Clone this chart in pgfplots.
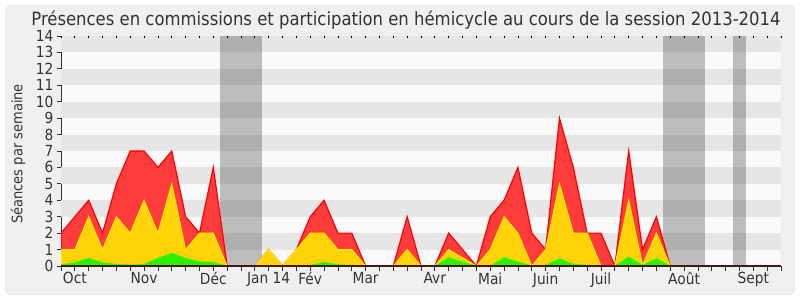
\documentclass[border=0pt]{standalone}
\usepackage{fontspec}
\setmainfont{DejaVu Sans Condensed}
\usepackage{pgfplots}
\pgfplotsset{compat=1.18}
\definecolor{bgout}{RGB}{240,240,240}
\definecolor{bordc}{RGB}{220,220,220}
\definecolor{txt}{RGB}{51,51,51}
\definecolor{stripeL}{RGB}{250,250,250}
\definecolor{stripeD}{RGB}{230,230,230}
\definecolor{bandc}{RGB}{50,50,50}
\definecolor{redfill}{RGB}{255,60,60}
\definecolor{redline}{RGB}{255,0,0}
\definecolor{yelfill}{RGB}{255,210,10}
\definecolor{yelline}{RGB}{255,240,0}
\definecolor{grnfill}{RGB}{45,240,0}
\definecolor{grnline}{RGB}{40,255,0}
\definecolor{baseln}{RGB}{70,25,20}
\begin{document}
\begin{tikzpicture}[x=1bp,y=1bp]
\fill[white] (0,0) rectangle (800,300);
\filldraw[fill=bgout, draw=bordc, rounded corners=6bp] (5.5,5.5) rectangle (794.5,294.5);
\node[font=\fontsize{18.3bp}{22bp}\selectfont, text=txt, anchor=base] at (406,275) {Présences en commissions et participation en hémicycle au cours de la session 2013-2014};
\node[font=\fontsize{14.5bp}{17bp}\selectfont, text=txt, rotate=90, anchor=center] at (18,146) {Séances par semaine};
\begin{axis}[
  at={(61bp,34bp)}, anchor=south west,
  scale only axis, width=720bp, height=230bp,
  xmin=0, xmax=52, ymin=0, ymax=14,
  axis background/.style={fill=stripeL},
  axis x line*=bottom, axis y line*=left,
  x axis line style={draw=baseln, line width=0.8bp, -},
  y axis line style={draw=txt, line width=0.8bp, -},
  xtick={1,6,11,15,18,22,27,31,35,39,45,50},
  xticklabels={Oct,Nov,Déc,Jan 14,Fév,Mar,Avr,Mai,Juin,Juil,Août,Sept},
  minor xtick={0,...,52},
  major x tick style={draw=none},
  minor x tick style={draw=txt, line width=0.8bp},
  minor tick length=5bp,
  ytick={0,...,14},
  major tick length=4bp,
  y tick style={draw=txt, line width=0.8bp},
  tick align=outside,
  ticklabel style={font=\fontsize{15.3bp}{18bp}\selectfont, text=txt},
  xticklabel style={yshift=1bp},
  /pgf/number format/assume math mode=true,
  clip=true,
]
\fill[stripeD] (axis cs:0,1) rectangle (axis cs:52,2);
\fill[stripeD] (axis cs:0,3) rectangle (axis cs:52,4);
\fill[stripeD] (axis cs:0,5) rectangle (axis cs:52,6);
\fill[stripeD] (axis cs:0,7) rectangle (axis cs:52,8);
\fill[stripeD] (axis cs:0,9) rectangle (axis cs:52,10);
\fill[stripeD] (axis cs:0,11) rectangle (axis cs:52,12);
\fill[stripeD] (axis cs:0,13) rectangle (axis cs:52,14);
% holiday bands
\addplot[fill=bandc, fill opacity=0.3, draw=none] coordinates {(11.5,0)(11.5,14)(14.5,14)(14.5,0)} -- cycle;
\addplot[fill=bandc, fill opacity=0.3, draw=none] coordinates {(43.5,0)(43.5,14)(46.5,14)(46.5,0)} -- cycle;
\addplot[fill=bandc, fill opacity=0.3, draw=none] coordinates {(48.5,0)(48.5,14)(49.5,14)(49.5,0)} -- cycle;
% total (red)
\addplot[fill=redfill, draw=redline, line width=1.2bp, fill opacity=1] coordinates {
(0,2)(1,3)(2,4)(3,2)(4,5)(5,7)(6,7)(7,6)(8,7)(9,3)(10,2)(11,6)(12,0)(13,0)(14,0)
(15,1)(16,0)(17,1)(18,3)(19,4)(20,2)(21,2)(22,0)(23,0)(24,0)(25,3)(26,0)(27,0)
(28,2)(29,1)(30,0)(31,3)(32,4)(33,6)(34,2)(35,1)(36,9)(37,6)(38,2)(39,2)(40,0)
(41,7)(42,1)(43,3)(44,0)(45,0)(46,0)(47,0)(48,0)(49,0)(50,0)(51,0)(52,0)} \closedcycle;
% yellow
\addplot[fill=yelfill, draw=yelline, line width=1bp] coordinates {
(0,1)(1,1)(2,3)(3,1)(4,3)(5,2)(6,4)(7,2)(8,5)(9,1)(10,2)(11,2)(12,0)(13,0)(14,0)
(15,1)(16,0)(17,1)(18,2)(19,2)(20,1)(21,1)(22,0)(23,0)(24,0)(25,1)(26,0)(27,0)
(28,1)(29,0.5)(30,0)(31,1)(32,3)(33,2)(34,0)(35,1)(36,5)(37,2)(38,2)(39,0)(40,0)
(41,4)(42,0.05)(43,2)(44,0)(45,0)(46,0)(47,0)(48,0)(49,0)(50,0)(51,0)(52,0)} \closedcycle;
% green
\addplot[fill=grnfill, draw=grnline, line width=0.8bp] coordinates {
(0,0.08)(1,0.2)(2,0.47)(3,0.2)(4,0.1)(5,0.06)(6,0.1)(7,0.47)(8,0.77)(9,0.47)(10,0.26)(11,0.22)(12,0)(13,0)(14,0)
(15,0.02)(16,0)(17,0.03)(18,0.04)(19,0.22)(20,0.08)(21,0.04)(22,0)(23,0)(24,0)(25,0.05)(26,0)(27,0)
(28,0.5)(29,0.25)(30,0)(31,0)(32,0.5)(33,0.25)(34,0)(35,0.05)(36,0.45)(37,0.1)(38,0.05)(39,0)(40,0)
(41,0.55)(42,0.05)(43,0.45)(44,0)(45,0)(46,0)(47,0)(48,0)(49,0)(50,0)(51,0)(52,0)} \closedcycle;
\draw[bordc, line width=1bp] (rel axis cs:1,0) -- (rel axis cs:1,1);
\draw[baseln, line width=1.2bp] (rel axis cs:0,0) -- (rel axis cs:1,0);
\end{axis}
\begin{axis}[
  at={(61bp,34bp)}, anchor=south west,
  scale only axis, width=720bp, height=230bp,
  xmin=0, xmax=52, ymin=0, ymax=14,
  axis x line*=top, hide y axis,
  x axis line style={draw=none},
  xtick={0,...,52}, xticklabels={},
  tick align=inside, major tick length=2bp,
  x tick style={draw=black, line width=0.8bp},
]
\end{axis}
\end{tikzpicture}
\end{document}
